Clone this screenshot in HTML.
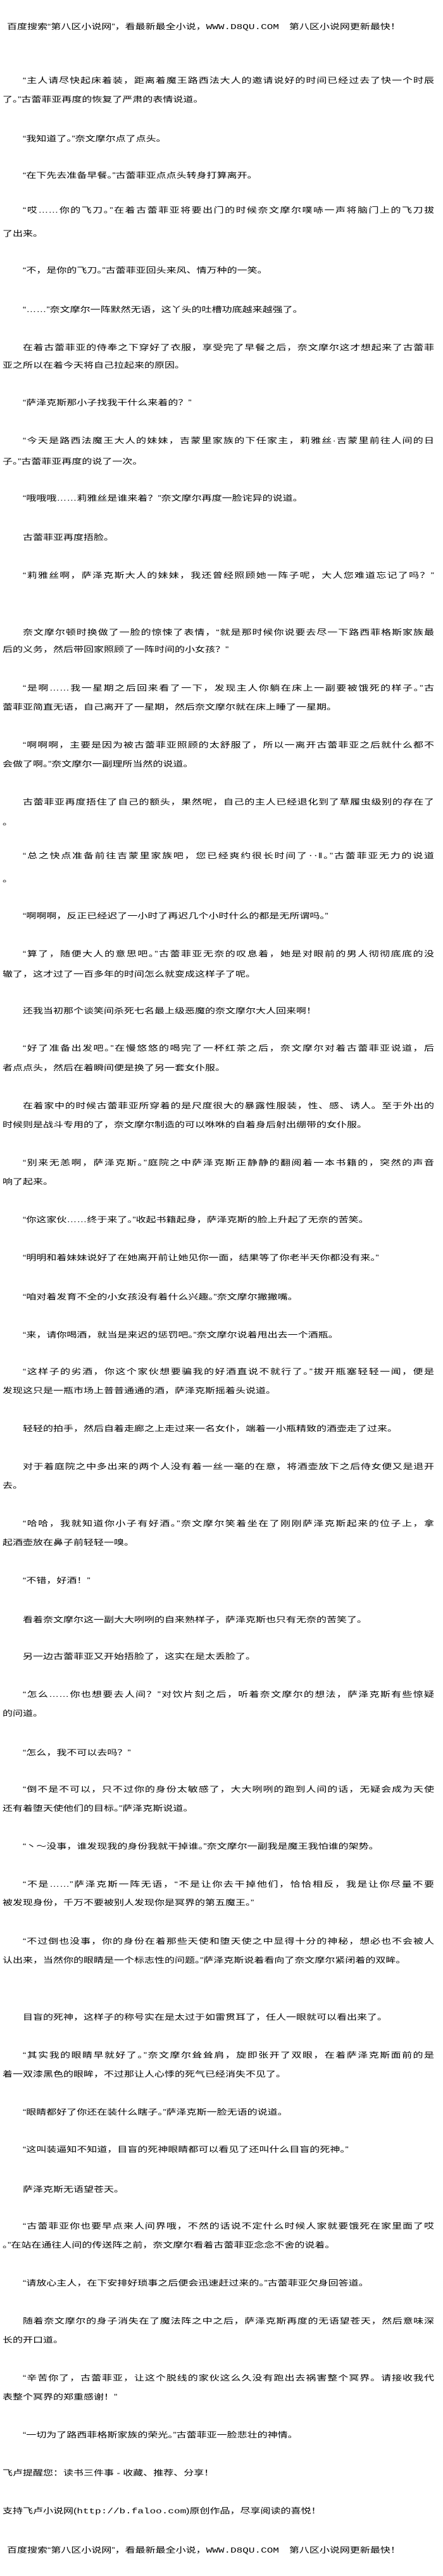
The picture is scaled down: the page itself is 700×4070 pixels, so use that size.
<!DOCTYPE html>
<html><head><meta charset="utf-8">
<style>
html,body{margin:0;padding:0;background:#fff;}
body{width:700px;height:4070px;position:relative;overflow:hidden;
font-family:"Liberation Sans","Noto Sans CJK SC",sans-serif;color:#000;}
.l{position:absolute;left:4px;height:20px;line-height:20px;font-size:16px;white-space:nowrap;transform:scaleY(0.76);transform-origin:0 50%;}
.i{left:36px;}
.f{width:650px;text-align:justify;text-align-last:justify;white-space:normal;overflow:hidden;}
.fu{width:682px;text-align:justify;text-align-last:justify;white-space:normal;overflow:hidden;}
.h{left:11px;}
.m{font-family:"Liberation Mono",monospace;}
</style></head><body>
<div class="l h" style="top:33px">百度搜索“第八区小说网”，看最新最全小说，<span class="m">WWW.D8QU.COM</span>　第八区小说网更新最快！</div>
<div class="l i f" style="top:118px">“主人请尽快起床着装，距离着魔王路西法大人的邀请说好的时间已经过去了快一个时辰</div>
<div class="l" style="top:148px">了。”古蕾菲亚再度的恢复了严肃的表情说道。</div>
<div class="l i" style="top:210px">“我知道了。”奈文摩尔点了点头。</div>
<div class="l i" style="top:268px">“在下先去准备早餐。”古蕾菲亚点点头转身打算离开。</div>
<div class="l i f" style="top:323px">“哎……你的飞刀。”在着古蕾菲亚将要出门的时候奈文摩尔噗哧一声将脑门上的飞刀拔</div>
<div class="l" style="top:360px">了出来。</div>
<div class="l i" style="top:418px">“不，是你的飞刀。”古蕾菲亚回头来风、情万种的一笑。</div>
<div class="l i" style="top:480px">“……”奈文摩尔一阵默然无语，这丫头的吐槽功底越来越强了。</div>
<div class="l i f" style="top:540px">在着古蕾菲亚的侍奉之下穿好了衣服，享受完了早餐之后，奈文摩尔这才想起来了古蕾菲</div>
<div class="l" style="top:568px">亚之所以在着今天将自己拉起来的原因。</div>
<div class="l i" style="top:627px">“萨泽克斯那小子找我干什么来着的？”</div>
<div class="l i f" style="top:687px">“今天是路西法魔王大人的妹妹，吉蒙里家族的下任家主，莉雅丝·吉蒙里前往人间的日</div>
<div class="l" style="top:720px">子。”古蕾菲亚再度的说了一次。</div>
<div class="l i" style="top:778px">“哦哦哦……莉雅丝是谁来着？”奈文摩尔再度一脸诧异的说道。</div>
<div class="l i" style="top:840px">古蕾菲亚再度捂脸。</div>
<div class="l i f" style="top:900px">“莉雅丝啊，萨泽克斯大人的妹妹，我还曾经照顾她一阵子呢，大人您难道忘记了吗？”</div>
<div class="l i f" style="top:990px">奈文摩尔顿时换做了一脸的惊悚了表情，“就是那时候你说要去尽一下路西菲格斯家族最</div>
<div class="l" style="top:1017px">后的义务，然后带回家照顾了一阵时间的小女孩？”</div>
<div class="l i f" style="top:1078px">“是啊……我一星期之后回来看了一下，发现主人你躺在床上一副要被饿死的样子。”古</div>
<div class="l" style="top:1108px">蕾菲亚简直无语，自己离开了一星期，然后奈文摩尔就在床上睡了一星期。</div>
<div class="l i f" style="top:1168px">“啊啊啊，主要是因为被古蕾菲亚照顾的太舒服了，所以一离开古蕾菲亚之后就什么都不</div>
<div class="l" style="top:1198px">会做了啊。”奈文摩尔一副理所当然的说道。</div>
<div class="l i f" style="top:1258px">古蕾菲亚再度捂住了自己的额头，果然呢，自己的主人已经退化到了草履虫级别的存在了</div>
<div class="l" style="top:1290px">。</div>
<div class="l i f" style="top:1343px">“总之快点准备前往吉蒙里家族吧，您已经爽约很长时间了‥‖。”古蕾菲亚无力的说道</div>
<div class="l" style="top:1380px">。</div>
<div class="l i" style="top:1438px">“啊啊啊，反正已经迟了一小时了再迟几个小时什么的都是无所谓吗。”</div>
<div class="l i f" style="top:1498px">“算了，随便大人的意思吧。”古蕾菲亚无奈的叹息着，她是对眼前的男人彻彻底底的没</div>
<div class="l" style="top:1530px">辙了，这才过了一百多年的时间怎么就变成这样子了呢。</div>
<div class="l i" style="top:1588px">还我当初那个谈笑间杀死七名最上级恶魔的奈文摩尔大人回来啊！</div>
<div class="l i f" style="top:1647px">“好了准备出发吧。”在慢悠悠的喝完了一杯红茶之后，奈文摩尔对着古蕾菲亚说道，后</div>
<div class="l" style="top:1678px">者点点头，然后在着瞬间便是换了另一套女仆服。</div>
<div class="l i f" style="top:1738px">在着家中的时候古蕾菲亚所穿着的是尺度很大的暴露性服装，性、感、诱人。至于外出的</div>
<div class="l" style="top:1768px">时候则是战斗专用的了，奈文摩尔制造的可以咻咻的自着身后射出绷带的女仆服。</div>
<div class="l i f" style="top:1828px">“别来无恙啊，萨泽克斯。”庭院之中萨泽克斯正静静的翻阅着一本书籍的，突然的声音</div>
<div class="l" style="top:1858px">响了起来。</div>
<div class="l i" style="top:1918px">“你这家伙……终于来了。”收起书籍起身，萨泽克斯的脸上升起了无奈的苦笑。</div>
<div class="l i" style="top:1978px">“明明和着妹妹说好了在她离开前让她见你一面，结果等了你老半天你都没有来。”</div>
<div class="l i" style="top:2040px">“咱对着发育不全的小女孩没有着什么兴趣。”奈文摩尔撇撇嘴。</div>
<div class="l i" style="top:2100px">“来，请你喝酒，就当是来迟的惩罚吧。”奈文摩尔说着甩出去一个酒瓶。</div>
<div class="l i f" style="top:2158px">“这样子的劣酒，你这个家伙想要骗我的好酒直说不就行了。”拔开瓶塞轻轻一闻，便是</div>
<div class="l" style="top:2188px">发现这只是一瓶市场上普普通通的酒，萨泽克斯摇着头说道。</div>
<div class="l i" style="top:2248px">轻轻的拍手，然后自着走廊之上走过来一名女仆，端着一小瓶精致的酒壶走了过来。</div>
<div class="l i f" style="top:2308px">对于着庭院之中多出来的两个人没有着一丝一毫的在意，将酒壶放下之后侍女便又是退开</div>
<div class="l" style="top:2338px">去。</div>
<div class="l i f" style="top:2398px">“哈哈，我就知道你小子有好酒。”奈文摩尔笑着坐在了刚刚萨泽克斯起来的位子上，拿</div>
<div class="l" style="top:2428px">起酒壶放在鼻子前轻轻一嗅。</div>
<div class="l i" style="top:2488px">“不错，好酒！”</div>
<div class="l i" style="top:2550px">看着奈文摩尔这一副大大咧咧的自来熟样子，萨泽克斯也只有无奈的苦笑了。</div>
<div class="l i" style="top:2608px">另一边古蕾菲亚又开始捂脸了，这实在是太丢脸了。</div>
<div class="l i f" style="top:2668px">“怎么……你也想要去人间？”对饮片刻之后，听着奈文摩尔的想法，萨泽克斯有些惊疑</div>
<div class="l" style="top:2698px">的问道。</div>
<div class="l i" style="top:2760px">“怎么，我不可以去吗？”</div>
<div class="l i f" style="top:2818px">“倒不是不可以，只不过你的身份太敏感了，大大咧咧的跑到人间的话，无疑会成为天使</div>
<div class="l" style="top:2848px">还有着堕天使他们的目标。”萨泽克斯说道。</div>
<div class="l i" style="top:2908px">“丶～没事，谁发现我的身份我就干掉谁。”奈文摩尔一副我是魔王我怕谁的架势。</div>
<div class="l i f" style="top:2968px">“不是……”萨泽克斯一阵无语，“不是让你去干掉他们，恰恰相反，我是让你尽量不要</div>
<div class="l" style="top:2997px">被发现身份，千万不要被别人发现你是冥界的第五魔王。”</div>
<div class="l i f" style="top:3058px">“不过倒也没事，你的身份在着那些天使和堕天使之中显得十分的神秘，想必也不会被人</div>
<div class="l" style="top:3088px">认出来，当然你的眼睛是一个标志性的问题。”萨泽克斯说着看向了奈文摩尔紧闭着的双眸。</div>
<div class="l i" style="top:3178px">目盲的死神，这样子的称号实在是太过于如雷贯耳了，任人一眼就可以看出来了。</div>
<div class="l i f" style="top:3238px">“其实我的眼睛早就好了。”奈文摩尔耸耸肩，旋即张开了双眼，在着萨泽克斯面前的是</div>
<div class="l" style="top:3268px">着一双漆黑色的眼眸，不过那让人心悸的死气已经消失不见了。</div>
<div class="l i" style="top:3328px">“眼睛都好了你还在装什么瞎子。”萨泽克斯一脸无语的说道。</div>
<div class="l i" style="top:3387px">“这叫装逼知不知道，目盲的死神眼睛都可以看见了还叫什么目盲的死神。”</div>
<div class="l i" style="top:3450px">萨泽克斯无语望苍天。</div>
<div class="l i f" style="top:3508px">“古蕾菲亚你也要早点来人间界哦，不然的话说不定什么时候人家就要饿死在家里面了哎</div>
<div class="l" style="top:3538px">。”在站在通往人间的传送阵之前，奈文摩尔看着古蕾菲亚念念不舍的说着。</div>
<div class="l i" style="top:3598px">“请放心主人，在下安排好琐事之后便会迅速赶过来的。”古蕾菲亚欠身回答道。</div>
<div class="l i f" style="top:3658px">随着奈文摩尔的身子消失在了魔法阵之中之后，萨泽克斯再度的无语望苍天，然后意味深</div>
<div class="l" style="top:3688px">长的开口道。</div>
<div class="l i f" style="top:3748px">“辛苦你了，古蕾菲亚，让这个脱线的家伙这么久没有跑出去祸害整个冥界。请接收我代</div>
<div class="l" style="top:3778px">表整个冥界的郑重感谢！”</div>
<div class="l i" style="top:3838px">“一切为了路西菲格斯家族的荣光。”古蕾菲亚一脸悲壮的神情。</div>
<div class="l" style="top:3898px">飞卢提醒您：读书三件事 - 收藏、推荐、分享！</div>
<div class="l" style="top:3958px">支持飞卢小说网(<span class="m">http://b.faloo.com</span>)原创作品，尽享阅读的喜悦！</div>
<div class="l h" style="top:4020px">百度搜索“第八区小说网”，看最新最全小说，<span class="m">WWW.D8QU.COM</span>　第八区小说网更新最快！</div>
</body></html>
